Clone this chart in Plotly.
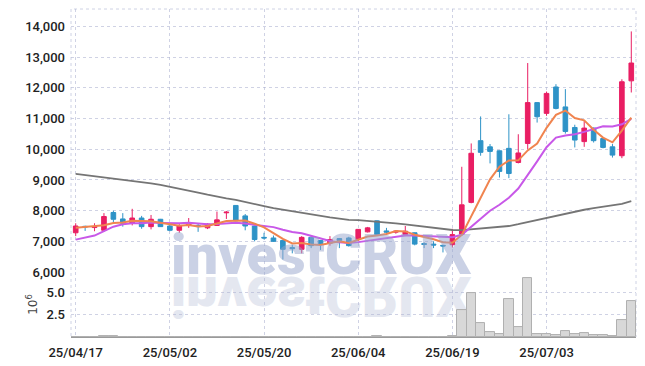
import base64
import plotly.graph_objects as go

dates = [
    "25/04/17", "25/04/18", "25/04/21", "25/04/22", "25/04/23", "25/04/24", "25/04/25", "25/04/28", "25/04/29", "25/04/30",
    "25/05/02", "25/05/07", "25/05/08", "25/05/09", "25/05/12", "25/05/13", "25/05/14", "25/05/15", "25/05/16", "25/05/19",
    "25/05/20", "25/05/21", "25/05/22", "25/05/23", "25/05/26", "25/05/27", "25/05/28", "25/05/29", "25/05/30", "25/06/02",
    "25/06/04", "25/06/05", "25/06/09", "25/06/10", "25/06/11", "25/06/12", "25/06/13", "25/06/16", "25/06/17", "25/06/18",
    "25/06/19", "25/06/20", "25/06/23", "25/06/24", "25/06/25", "25/06/26", "25/06/27", "25/06/30", "25/07/01", "25/07/02",
    "25/07/03", "25/07/04", "25/07/07", "25/07/08", "25/07/09", "25/07/10", "25/07/11", "25/07/14", "25/07/15", "25/07/16",
]

opens = [7280, 7490, 7450, 7360, 7940, 7730, 7590, 7760, 7480, 7720,
         7500, 7360, 7520, 7520, 7440, 7520, 7930, 8170, 7830, 7500,
         7130, 7110, 7030, 6800, 6740, 7130, 7030, 6940, 7090, 7110,
         7060, 7310, 7670, 7340, 7300, 7220, 7280, 6930, 6910, 6870,
         6890, 7230, 8270, 10280, 10080, 9950, 10030, 9570, 10190, 11520,
         11170, 12030, 11380, 10710, 10250, 10690, 10350, 10080, 9790, 12230]
highs = [7590, 7510, 7590, 7920, 8000, 7920, 8060, 7830, 7860, 7730,
         7530, 7560, 7760, 7590, 7590, 7970, 7990, 8180, 7890, 7510,
         7280, 7190, 7040, 6890, 7170, 7170, 7040, 7170, 7110, 7150,
         7400, 7470, 7680, 7440, 7370, 7500, 7290, 6970, 7000, 6890,
         7410, 9430, 10190, 11070, 10170, 9960, 11140, 10490, 12810, 11530,
         11880, 12120, 11960, 10800, 10930, 10710, 10380, 10170, 12280, 13840]
lows = [7170, 7340, 7330, 7310, 7610, 7480, 7520, 7410, 7390, 7470,
        7330, 7280, 7440, 7310, 7400, 7500, 7730, 7650, 7360, 7000,
        7060, 6980, 6410, 6610, 6610, 6780, 6720, 6860, 6780, 6830,
        7010, 7290, 7200, 7220, 7250, 7170, 6870, 6780, 6780, 6640,
        6800, 7200, 8240, 9790, 9540, 9080, 9060, 9540, 10000, 10870,
        11090, 11300, 10510, 10060, 10080, 10220, 10030, 9730, 9710, 11850]
closes = [7500, 7470, 7480, 7810, 7720, 7590, 7760, 7480, 7720, 7480,
          7360, 7500, 7610, 7480, 7560, 7700, 7950, 7670, 7500, 7060,
          7110, 7000, 6740, 6760, 7130, 6860, 6920, 7060, 7030, 6860,
          7390, 7440, 7220, 7300, 7330, 7330, 6910, 6900, 6880, 6850,
          7220, 8190, 9870, 9900, 9930, 9280, 9210, 9880, 11520, 11060,
          11820, 11330, 10580, 10300, 10690, 10280, 10060, 9810, 12200, 12810]

volumes = [40000, 30000, 30000, 150000, 60000, 40000, 50000, 40000, 40000, 30000,
           30000, 30000, 30000, 20000, 20000, 30000, 40000, 50000, 40000, 40000,
           20000, 20000, 50000, 20000, 40000, 30000, 20000, 20000, 20000, 30000,
           50000, 30000, 60000, 20000, 20000, 30000, 40000, 20000, 20000, 30000,
           80000, 3050000, 5000000, 1620000, 600000, 380000, 4320000, 1130000, 6690000, 380000,
           300000, 230000, 680000, 380000, 490000, 230000, 230000, 110000, 1920000, 4060000]

ma5 = [7444, 7467, 7478, 7522, 7596, 7614, 7672, 7672, 7654, 7606,
       7560, 7508, 7534, 7486, 7502, 7570, 7660, 7672, 7676, 7576,
       7458, 7268, 7082, 6934, 6948, 6898, 6882, 6946, 7000, 6946,
       7052, 7156, 7188, 7242, 7336, 7324, 7218, 7154, 7070, 6974,
       6952, 7208, 7802, 8406, 9022, 9434, 9638, 9640, 9964, 10190,
       10698, 11122, 11262, 11018, 10944, 10636, 10382, 10228, 10608, 11032]
ma10 = [7056, 7111, 7189, 7333, 7478, 7556, 7589, 7589, 7611, 7601,
        7587, 7590, 7603, 7570, 7554, 7565, 7584, 7603, 7581, 7539,
        7514, 7464, 7377, 7305, 7262, 7178, 7075, 7014, 6967, 6947,
        6975, 7019, 7067, 7121, 7141, 7188, 7187, 7171, 7156, 7155,
        7138, 7213, 7478, 7738, 7998, 8193, 8423, 8721, 9185, 9606,
        10066, 10380, 10451, 10491, 10567, 10667, 10752, 10745, 10813, 10988]
ma60 = [9196, 9160, 9120, 9085, 9050, 9015, 8980, 8940, 8890, 8837,
        8780, 8715, 8651, 8590, 8520, 8455, 8400, 8350, 8290, 8220,
        8150, 8080, 8030, 7970, 7910, 7860, 7820, 7780, 7740, 7700,
        7690, 7670, 7640, 7610, 7585, 7550, 7510, 7470, 7440, 7400,
        7370, 7365, 7390, 7420, 7450, 7480, 7500, 7560, 7630, 7690,
        7750, 7820, 7900, 7970, 8030, 8080, 8120, 8160, 8220, 8310]

tick_idx = [0, 10, 20, 30, 40, 50]
tick_dates = [dates[i] for i in tick_idx]
price_ticks = [6000, 7000, 8000, 9000, 10000, 11000, 12000, 13000, 14000]
vol_ticks = [2500000, 5000000]
vol_tick_text = ["2.5", "5.0"]

UP = "#e91e63"
DOWN = "#2e93c7"
GRID = "rgba(175,180,210,0.6)"
FONT = "Roboto, Liberation Sans, sans-serif"
WM_FONT = "Roboto, Liberation Sans, Arial, sans-serif"

fig = go.Figure()
fig.add_trace(go.Candlestick(
    x=dates, open=opens, high=highs, low=lows, close=closes,
    increasing=dict(line=dict(color=UP, width=1), fillcolor=UP),
    decreasing=dict(line=dict(color=DOWN, width=1), fillcolor=DOWN),
    xaxis="x", yaxis="y", showlegend=False, hoverinfo="skip"))
fig.add_trace(go.Scatter(x=dates, y=ma60, mode="lines", line=dict(color="#757575", width=1.8),
                         xaxis="x", yaxis="y", showlegend=False))
fig.add_trace(go.Scatter(x=dates, y=ma10, mode="lines", line=dict(color="#c858e8", width=2),
                         xaxis="x", yaxis="y", showlegend=False))
fig.add_trace(go.Scatter(x=dates, y=ma5, mode="lines", line=dict(color="#f0844f", width=2),
                         xaxis="x", yaxis="y", showlegend=False))
fig.add_trace(go.Bar(x=dates, y=volumes, marker=dict(color="#d8d8d8", line=dict(color="#b0b0b0", width=1)),
                     xaxis="x2", yaxis="y2", showlegend=False))

# reflection of the watermark (decorative)
svg = ('<svg xmlns="http://www.w3.org/2000/svg" width="320" height="50">'
       '<text x="160" y="-1" transform="scale(1,-1)" text-anchor="middle" '
       'font-family="Roboto, Liberation Sans, Arial, sans-serif" font-weight="900" font-size="56" '
       'fill="#e4e7f0">investCRUX</text></svg>')
svg_uri = "data:image/svg+xml;base64," + base64.b64encode(svg.encode()).decode()

common_x = dict(type="category", range=[-0.5, 59.5], tickmode="array", tickvals=tick_dates,
                showgrid=True, gridcolor=GRID, griddash="dot", gridwidth=1, zeroline=False)

fig.update_layout(
    width=645, height=366,
    margin=dict(l=71, r=9, t=9, b=29),
    paper_bgcolor="white", plot_bgcolor="rgba(0,0,0,0)",
    bargap=0, boxgap=0.3,
    showlegend=False,
    xaxis=dict(**common_x, domain=[0, 1], anchor="y", showticklabels=False,
               rangeslider=dict(visible=False)),
    xaxis2=dict(**common_x, domain=[0, 1], anchor="y2", matches="x", ticktext=tick_dates,
                showline=True, linecolor="#9a9a9a", linewidth=1, automargin=False,
                tickfont=dict(family=FONT, size=13, color="#222", weight=500), ticklabelstandoff=3),
    yaxis=dict(domain=[0.198, 1], range=[6000, 14570], tickmode="array", tickvals=price_ticks,
               tickformat=",d", showgrid=True, gridcolor=GRID, griddash="dot", zeroline=False,
               automargin=False,
               tickfont=dict(family=FONT, size=13, color="#222", weight=500), ticklabelstandoff=5),
    yaxis2=dict(domain=[0, 0.198], range=[0, 7350000], tickmode="array", tickvals=vol_ticks,
                ticktext=vol_tick_text, showgrid=True, gridcolor=GRID, griddash="dot", zeroline=False,
                automargin=False,
                tickfont=dict(family=FONT, size=13, color="#222", weight=500), ticklabelstandoff=5,
                title=dict(text="10<sup>6</sup>", font=dict(family="DejaVu Sans, sans-serif", size=12, color="#444"),
                           standoff=6)),
    annotations=[dict(text="investCRUX", xref="paper", yref="paper", x=0.4425, y=0.25,
                      xanchor="center", yanchor="middle", showarrow=False,
                      font=dict(family=WM_FONT, size=56, weight=900,
                                color="rgba(150,163,203,0.5)"))],
    images=[dict(source=svg_uri, xref="paper", yref="paper", x=0.1593, y=0.186,
                 sizex=0.5664, sizey=0.1524, sizing="stretch", xanchor="left", yanchor="top",
                 layer="below")],
    shapes=[dict(type="rect", xref="paper", yref="paper", x0=0, x1=1, y0=0, y1=1,
                 line=dict(color=GRID, width=1, dash="dot"), layer="below")],
)

fig.write_html("out.html", config={"displayModeBar": False},
               post_script="document.body.style.margin='0';")
